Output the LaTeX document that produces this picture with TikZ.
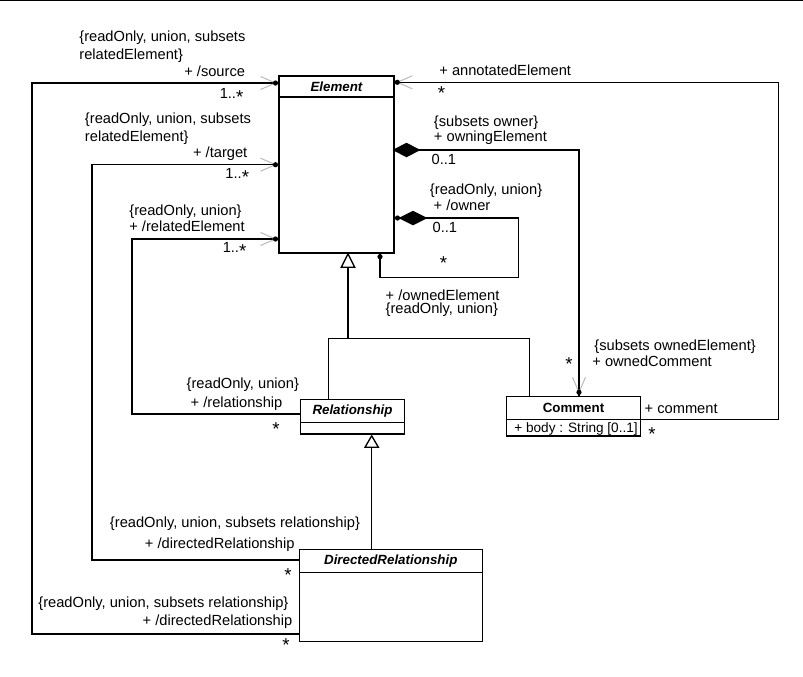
\documentclass[tikz,border=0pt]{standalone}
\usepackage{fontspec}
\setmainfont{Liberation Sans}
\usepackage{tikz}
\usetikzlibrary{calc}
\tikzset{every picture/.style={line width=1pt}}
\tikzset{
  umlclass/.style={draw, fill=white, inner sep=0pt, outer sep=0pt, anchor=north west},
  umlname/.style={inner sep=0.75pt, font=\fontsize{10}{12}\selectfont\bfseries},
  umltext/.style={inner sep=0.75pt, font=\fontsize{11}{13}\selectfont},
}
\definecolor{navgray}{RGB}{185,185,185}
\newcommand{\umlstar}{\raisebox{-3.6pt}{\fontsize{14}{14}\selectfont *}}

\begin{document}
\begin{tikzpicture}[x=0.75pt,y=0.75pt,yscale=-1,xscale=1]
\useasboundingbox (0,0) rectangle (803,676);

%Straight Lines (top edge)
\draw (0,0.7) -- (803,0.7) ;

%Shape: Classes
\node [umlclass, minimum width=86.25pt, minimum height=132.75pt] (element) at (279,76) {};
\draw ($(element.north west)+(0,21)$) -- ($(element.north east)+(0,21)$) ;
\node [umlclass, minimum width=78pt, minimum height=26pt] (relationship) at (300.5,399.3) {};
\draw ($(relationship.north west)+(0,23.2)$) -- ($(relationship.north east)+(0,23.2)$) ;
\node [umlclass, minimum width=137.25pt, minimum height=69pt] (directedrel) at (299.3,549.3) {};
\draw ($(directedrel.north west)+(0,23)$) -- ($(directedrel.north east)+(0,23)$) ;
\node [umlclass, minimum width=100.2pt, minimum height=29.8pt] (comment) at (506.7,396.3) {};
\draw ($(comment.north west)+(0,23)$) -- ($(comment.north east)+(0,23)$) ;

% Class names
\node [umlname, font=\fontsize{10}{12}\selectfont\bfseries\itshape] (elementname) at ($(element.north)+(0,11)$) {Element};
\node [umlname, font=\fontsize{10}{12}\selectfont\bfseries\itshape] (relationshipname) at ($(relationship.north)+(0,12)$) {Relationship};
\node [umlname, font=\fontsize{10}{12}\selectfont\bfseries\itshape] (directedrelname) at ($(directedrel.north)+(0,11.7)$) {DirectedRelationship};
\node [umlname] (commentname) at ($(comment.north)+(0,12)$) {Comment};
\node [umltext, font=\fontsize{10.2}{12}\selectfont, anchor=west] (commentbody) at (512.7,429) {+ body : String [0..1]};

%Straight Lines: source
\draw (element.west |- 0,83) -| (32,634) -- (directedrel.west |- 0,634) ;
%Straight Lines: target
\draw (element.west |- 0,164.7) -| (92,560) -- (directedrel.west |- 0,560) ;
%Straight Lines: relatedElement
\draw (element.west |- 0,239) -| (132,414) -- (relationship.west |- 0,414) ;
%Straight Lines: annotatedElement
\draw (element.east |- 0,82.3) -| (778.3,419.3) -- (comment.east |- 0,419.3) ;
%Straight Lines: owningElement
\draw (element.east |- 0,150) -| (comment.north -| 579,0) ;
%Straight Lines: owner
\draw (element.east |- 0,218) -| (518.3,277.7) -| (element.south -| 380,0) ;
%Straight Lines: generalizations
\draw (relationship.north -| 328.5,0) |- (529.3,338.5) -- (comment.north -| 529.3,0) ;
\draw ($(element.south -| 348,0)+(0,14)$) -- (348,338.5) ;
\draw ($(relationship.south -| 371.7,0)+(0,13.3)$) -- (directedrel.north -| 371.7,0) ;

% generalization heads
\draw [shift={(348,253.8)}, rotate = 90] [fill=white] (0,0) -- (13.5,-6.7) -- (13.5,6.7) -- cycle ;
\draw [shift={(371.7,435.8)}, rotate = 90] [fill=white] (0,0) -- (11.5,-6.7) -- (11.5,6.7) -- cycle ;
% composition diamonds
\draw [shift={(394,150)}, rotate = 0] [fill=black] (0,0) -- (12.5,-6.5) -- (25,0) -- (12.5,6.5) -- cycle ;
\draw [shift={(400,218)}, rotate = 0] [fill=black] (0,0) -- (13,-6.5) -- (26,0) -- (13,6.5) -- cycle ;
% navigable ends
\draw [shift={(275.5,83)}, rotate = 0] [color=navgray][line width=0.75] (-15,-6.5) -- (0,0) -- (-15,6.5) ;
\draw [shift={(275.5,164.7)}, rotate = 0] [color=navgray][line width=0.75] (-15,-6.5) -- (0,0) -- (-15,6.5) ;
\draw [shift={(275.5,239)}, rotate = 0] [color=navgray][line width=0.75] (-15,-6.5) -- (0,0) -- (-15,6.5) ;
\draw [shift={(397.3,82.3)}, rotate = 180] [color=navgray][line width=0.75] (-15,-6.5) -- (0,0) -- (-15,6.5) ;
\draw [shift={(579,392.3)}, rotate = 90] [color=navgray][line width=0.75] (-15,-6.5) -- (0,0) -- (-15,6.5) ;
% owned end dots
\fill (275.5,83) circle [radius=2.6] ;
\fill (275.5,164.7) circle [radius=2.6] ;
\fill (275.5,239) circle [radius=2.6] ;
\fill (397.3,82.3) circle [radius=2.6] ;
\fill (397.5,218) circle [radius=2.6] ;
\fill (380,256.7) circle [radius=2.6] ;
\fill (579,392.3) circle [radius=2.6] ;

% Text Node
\draw (77.7,37.7) node (srcprop) [umltext, anchor=west] {\{readOnly, union, subsets};
\draw (77.7,55.7) node (srcprop2) [umltext, anchor=west] {relatedElement\}};
\draw (246.7,71) node (srcrole) [umltext, anchor=east] {+ /source};
\draw (245,98.6) node (srcmult) [umltext, anchor=base east] {1..\umlstar};
% Text Node
\draw (83.3,120) node (tgtprop) [umltext, anchor=west] {\{readOnly, union, subsets};
\draw (83.3,137.7) node (tgtprop2) [umltext, anchor=west] {relatedElement\}};
\draw (249,153.3) node (tgtrole) [umltext, anchor=east] {+ /target};
\draw (250.7,178.6) node (tgtmult) [umltext, anchor=base east] {1..\umlstar};
% Text Node
\draw (127.7,211.7) node (relprop) [umltext, anchor=west] {\{readOnly, union\}};
\draw (127.7,226) node (relrole) [umltext, anchor=west] {+ /relatedElement};
\draw (248,252.6) node (relmult) [umltext, anchor=base east] {1..\umlstar};
% Text Node
\draw (437.7,70) node (annrole) [umltext, anchor=west] {+ annotatedElement};
\draw (441.5,95) node (annmult) [umltext, anchor=base] {\umlstar};
% Text Node
\draw (432.3,122.7) node (owningprop) [umltext, anchor=west] {\{subsets owner\}};
\draw (432.3,138) node (owningrole) [umltext, anchor=west] {+ owningElement};
\draw (430,159) node (owningmult) [umltext, anchor=west] {0..1};
% Text Node
\draw (428.3,191) node (ownerprop) [umltext, anchor=west] {\{readOnly, union\}};
\draw (432,205) node (ownerrole) [umltext, anchor=west] {+ /owner};
\draw (431,227.7) node (ownermult) [umltext, anchor=west] {0..1};
\draw (443.5,265) node (ownedmult) [umltext, anchor=base] {\umlstar};
\draw (384,295) node (ownedrole) [umltext, anchor=west] {+ /ownedElement};
\draw (384,309.3) node (ownedprop) [umltext, anchor=west] {\{readOnly, union\}};
% Text Node
\draw (569,365.3) node (cmtmult) [umltext, anchor=base] {\umlstar};
\draw (592.7,346.7) node (cmtprop) [umltext, anchor=west] {\{subsets ownedElement\}};
\draw (590.7,361.7) node (cmtrole) [umltext, anchor=west] {+ ownedComment};
\draw (643,409) node (commentrole) [umltext, anchor=west] {+ comment};
\draw (652,436) node (commentmult) [umltext, anchor=base] {\umlstar};
% Text Node
\draw (185,385) node (rshipprop) [umltext, anchor=west] {\{readOnly, union\}};
\draw (189,403.3) node (rshiprole) [umltext, anchor=west] {+ /relationship};
\draw (276,430.3) node (rshipmult) [umltext, anchor=base] {\umlstar};
% Text Node
\draw (108.3,523.3) node (tgtdrprop) [umltext, anchor=west] {\{readOnly, union, subsets relationship\}};
\draw (143.3,544.3) node (tgtdrrole) [umltext, anchor=west] {+ /directedRelationship};
\draw (288,576.7) node (tgtdrmult) [umltext, anchor=base] {\umlstar};
% Text Node
\draw (36.7,604) node (srcdrprop) [umltext, anchor=west] {\{readOnly, union, subsets relationship\}};
\draw (141,621.7) node (srcdrrole) [umltext, anchor=west] {+ /directedRelationship};
\draw (286,646.7) node (srcdrmult) [umltext, anchor=base] {\umlstar};

\end{tikzpicture}
\end{document}
